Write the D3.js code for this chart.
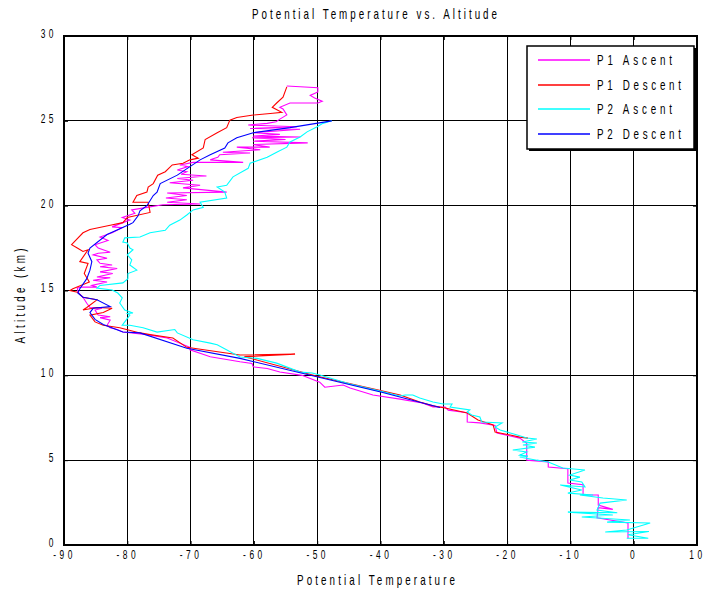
<!DOCTYPE html>
<html><head><meta charset="utf-8">
<script src="https://cdn.jsdelivr.net/npm/d3@7"></script>
<style>
body{margin:0;background:#fff}
text{font-family:"Liberation Sans",Arial,sans-serif;fill:#000}
</style>
</head><body>
<svg id="c" width="705" height="592"></svg>
<script>
// ---- data ----
const xTicks = [-90,-80,-70,-60,-50,-40,-30,-20,-10,0,10];
const yTicks = [0,5,10,15,20,25,30];
const titleText = "Potential Temperature vs. Altitude";
const xLabel = "Potential Temperature";
const yLabel = "Altitude (km)";
const seriesNames = ["P1 Ascent","P1 Descent","P2 Ascent","P2 Descent"];
const seriesColors = ["#ff00ff","#ff0000","#00ffff","#0000ff"];

// [temperature, altitude km]
const p1Ascent = [[-0.9,0.4],[-0.9,1.3],[-5.8,1.6],[-5.6,2.2],[-3.3,2.1],[-5.6,2.35],[-5.6,2.95],[-8.0,2.95],[-8.0,3.55],[-10.4,3.65],[-10.4,4.5],[-13.5,4.6],[-13.5,4.9],[-16.9,5.0],[-16.9,6.0],[-18.0,6.3],[-21.6,6.6],[-21.9,7.05],[-24.3,7.2],[-26.3,7.25],[-26.3,7.8],[-29.3,7.95],[-29.8,8.13],[-31.7,8.13],[-33.4,8.37],[-36.9,8.6],[-41.2,8.84],[-44.8,9.25],[-45.9,9.43],[-48.8,9.3],[-49.6,9.6],[-52.4,10.0],[-55.9,10.2],[-57.9,10.4],[-60.1,10.5],[-60.3,10.7],[-62.2,10.8],[-66.9,11.1],[-70.1,11.5],[-70.1,11.65],[-73.7,12.2],[-76.9,12.4],[-80.7,12.55],[-81.6,12.7],[-82.7,12.8],[-83.2,12.95],[-82.7,13.25],[-84.3,13.4],[-82.7,13.45],[-84.6,13.55],[-85.1,13.85],[-84.0,13.95],[-85.9,14.0],[-86.4,14.25],[-87.0,14.6],[-87.8,14.9],[-87.9,15.15],[-87.2,15.2],[-84.8,15.2],[-85.6,15.3],[-83.2,15.5],[-85.4,15.6],[-82.7,15.75],[-84.8,15.8],[-82.3,16.0],[-84.3,16.1],[-81.6,16.3],[-84.3,16.4],[-82.4,16.5],[-84.3,16.6],[-84.8,16.8],[-83.2,16.9],[-85.4,17.1],[-84.6,17.2],[-82.7,17.25],[-84.6,17.5],[-85.1,17.7],[-83.05,17.95],[-84.3,18.15],[-82.4,18.4],[-80.8,18.7],[-82.4,18.75],[-80.7,19.0],[-79.6,19.15],[-80.8,19.3],[-78.8,19.55],[-79.3,19.75],[-76.9,19.9],[-74.4,20.05],[-68.5,20.1],[-73.7,20.2],[-70.6,20.35],[-73.9,20.45],[-70.6,20.6],[-73.7,20.75],[-64.3,20.8],[-71.2,21.05],[-68.5,21.2],[-73.3,21.35],[-69.6,21.5],[-72.1,21.6],[-67.5,21.75],[-71.5,21.85],[-70.6,22.0],[-72.1,22.1],[-70.4,22.3],[-71.7,22.4],[-69.6,22.55],[-61.7,22.55],[-66.9,22.7],[-66.2,22.8],[-65.7,22.85],[-65.4,23.0],[-60.6,23.1],[-64.9,23.15],[-59.0,23.3],[-62.7,23.45],[-57.5,23.45],[-60.1,23.6],[-51.5,23.7],[-60.1,23.8],[-55.0,23.9],[-60.3,24.0],[-52.7,24.05],[-60.1,24.1],[-55.9,24.2],[-60.1,24.3],[-52.7,24.5],[-60.6,24.55],[-53.2,24.65],[-60.9,24.75],[-57.9,24.85],[-56.5,24.95],[-55.9,25.1],[-54.8,25.35],[-55.4,25.7],[-55.9,25.8],[-54.3,26.05],[-49.9,26.05],[-49.2,26.15],[-50.4,26.35],[-51.1,26.5],[-49.9,26.7],[-49.9,26.95],[-54.8,27.05]];

const p1Descent = [[-54.8,27.0],[-55.4,26.4],[-56.4,26.05],[-57.1,25.8],[-55.6,25.5],[-57.0,25.45],[-60.1,25.34],[-62.7,25.2],[-63.8,25.04],[-64.3,24.6],[-65.8,24.3],[-67.7,23.9],[-68.0,23.4],[-69.8,23.0],[-68.8,22.8],[-70.1,22.7],[-71.2,22.5],[-72.9,22.4],[-74.0,22.0],[-75.2,21.8],[-75.9,21.3],[-76.7,21.1],[-76.9,20.8],[-78.5,20.6],[-79.1,20.2],[-76.7,20.2],[-76.4,19.6],[-80.0,19.3],[-80.7,19.0],[-82.7,18.85],[-85.9,18.6],[-87.0,18.4],[-88.8,17.7],[-87.9,17.5],[-87.0,17.3],[-86.2,17.4],[-87.5,16.7],[-86.2,16.6],[-86.8,16.0],[-86.0,15.5],[-88.6,15.1],[-89.05,15.0],[-87.9,14.9],[-87.0,14.6],[-84.8,14.45],[-86.4,14.0],[-87.0,13.85],[-84.8,14.0],[-82.4,13.95],[-83.8,13.7],[-85.9,13.55],[-85.1,13.15],[-83.8,12.95],[-81.2,12.8],[-78.0,12.5],[-76.4,12.4],[-72.8,12.2],[-70.6,11.65],[-62.2,11.2],[-53.5,11.25],[-61.5,11.1],[-50.0,9.95],[-40.0,9.1],[-36.9,8.84],[-33.8,8.43],[-31.7,8.2],[-29.8,8.07],[-26.3,7.78],[-24.6,7.37],[-22.2,7.07],[-21.9,6.66],[-19.5,6.48],[-18.0,6.36],[-16.7,6.3]];

const p2Ascent = [[-1.1,0.4],[2.3,0.4],[-0.9,0.6],[2.4,0.8],[-4.5,0.77],[-1.1,0.88],[2.6,1.3],[-4.2,1.35],[-0.6,1.47],[-8.2,1.65],[-3.3,1.77],[-10.4,1.94],[-2.6,1.9],[-5.8,2.06],[-5.3,2.47],[-1.1,2.65],[-4.85,2.77],[-8.5,2.95],[-6.4,2.95],[-10.4,3.06],[-8.2,3.24],[-11.6,3.54],[-7.7,3.42],[-8.2,3.71],[-10.1,3.83],[-8.5,4.0],[-10.1,4.12],[-7.7,4.42],[-11.2,4.54],[-13.5,4.89],[-15.3,5.0],[-18.0,5.19],[-16.7,5.24],[-18.0,5.3],[-16.9,5.48],[-19.1,5.6],[-15.6,5.77],[-17.5,5.89],[-15.3,6.01],[-17.6,6.07],[-15.3,6.25],[-16.9,6.31],[-18.4,6.48],[-19.5,6.6],[-21.1,6.78],[-21.9,6.95],[-20.8,7.19],[-24.0,7.25],[-24.3,7.54],[-25.6,7.66],[-26.3,7.84],[-25.9,7.96],[-29.0,8.13],[-28.7,8.31],[-30.1,8.31],[-31.7,8.43],[-33.8,8.66],[-34.9,8.84],[-36.1,8.84],[-36.9,8.78],[-40.1,9.07],[-44.8,9.49],[-49.6,10.02],[-50.8,10.14],[-52.7,10.19],[-56.4,10.72],[-59.5,11.0],[-62.2,11.08],[-65.8,11.8],[-66.9,11.9],[-69.6,12.1],[-72.1,12.5],[-72.5,12.7],[-75.3,12.55],[-77.5,12.8],[-79.6,12.95],[-80.8,12.95],[-80.4,13.15],[-79.6,13.55],[-80.0,13.65],[-79.1,13.67],[-80.4,13.85],[-81.2,14.26],[-80.8,14.56],[-81.5,14.85],[-82.4,15.03],[-84.8,15.14],[-84.3,15.3],[-80.7,15.45],[-79.9,15.7],[-79.9,16.0],[-78.5,16.2],[-79.6,16.5],[-79.3,16.8],[-80.0,17.1],[-79.1,17.4],[-79.6,17.5],[-80.0,17.8],[-80.7,17.85],[-80.4,18.1],[-78.0,18.15],[-76.4,18.4],[-74.0,18.55],[-73.3,18.85],[-71.7,19.15],[-70.6,19.45],[-69.6,19.75],[-68.0,19.9],[-68.5,20.2],[-64.3,20.45],[-64.6,20.8],[-65.8,21.1],[-64.3,21.2],[-63.3,21.7],[-60.9,22.2],[-60.6,22.5],[-57.9,22.85],[-56.4,23.15],[-54.8,23.45],[-54.3,23.75],[-52.7,24.05],[-51.6,24.35],[-50.0,24.65],[-49.1,24.85],[-47.7,25.0]];

const p2Descent = [[-47.7,25.0],[-54.3,24.6],[-60.1,24.3],[-62.7,24.0],[-64.1,23.7],[-64.6,23.4],[-66.9,23.0],[-68.5,22.7],[-70.1,22.3],[-72.1,21.8],[-74.8,21.3],[-75.3,20.8],[-75.9,20.6],[-76.9,20.0],[-78.0,19.7],[-78.3,19.4],[-79.1,19.0],[-79.6,18.9],[-83.2,18.3],[-85.9,17.5],[-86.2,17.2],[-85.6,16.7],[-85.9,16.2],[-86.4,15.7],[-87.5,15.1],[-87.8,14.85],[-87.0,14.6],[-84.8,14.45],[-82.7,14.05],[-85.4,13.95],[-85.9,13.7],[-85.1,13.3],[-83.8,13.0],[-80.7,12.55],[-78.0,12.5],[-70.6,11.6],[-62.2,11.0],[-49.9,9.9],[-39.8,9.0],[-30.6,8.1]];

const allSeries = [p1Ascent, p1Descent, p2Ascent, p2Descent];

// ---- drawing ----
const SX = 0.7; // horizontal squeeze for tall narrow glyphs
const svg = d3.select("#c");
const L = 64, R = 697, T = 36, B = 545;
const x = d3.scaleLinear().domain([-90,10]).range([L,R]);
const y = d3.scaleLinear().domain([0,30]).range([B,T]);

// grid
const grid = svg.append("g").attr("stroke","#000").attr("stroke-width",1).attr("shape-rendering","crispEdges");
grid.selectAll("line.vx").data(xTicks.slice(1,-1)).join("line")
  .attr("x1",d=>x(d)).attr("x2",d=>x(d)).attr("y1",T).attr("y2",B);
grid.selectAll("line.hy").data(yTicks.slice(1,-1)).join("line")
  .attr("y1",d=>y(d)).attr("y2",d=>y(d)).attr("x1",L).attr("x2",R);

// series
const line = d3.line().x(d=>x(d[0])).y(d=>y(d[1]));
const plot = svg.append("g");
allSeries.forEach((s,i)=>{
  plot.append("path").datum(s).attr("d",line)
    .attr("fill","none").attr("stroke",seriesColors[i]).attr("stroke-width",1.1)
    .attr("stroke-linejoin","miter");
});

// axes
const fmt = d=>String(d);
const axB = svg.append("g").attr("transform",`translate(0,${B})`)
  .call(d3.axisBottom(x).tickValues(xTicks).tickFormat(fmt).tickSizeInner(-4).tickSizeOuter(0).tickPadding(5));
const axL = svg.append("g").attr("transform",`translate(${L},0)`)
  .call(d3.axisLeft(y).tickValues(yTicks).tickFormat(fmt).tickSizeInner(-4).tickSizeOuter(0));
const axT = svg.append("g").attr("transform",`translate(0,${T})`)
  .call(d3.axisTop(x).tickValues(xTicks).tickFormat("").tickSizeInner(-4).tickSizeOuter(0));
const axR = svg.append("g").attr("transform",`translate(${R},0)`)
  .call(d3.axisRight(y).tickValues(yTicks).tickFormat("").tickSizeInner(-4).tickSizeOuter(0));
[axB,axL,axT,axR].forEach(a=>{
  a.select(".domain").remove();
  a.selectAll("line").attr("stroke","#000");
  a.selectAll("text").style("font-size","12px").style("letter-spacing","5px")
    .style("font-family",'"Liberation Sans",Arial,sans-serif')
    .attr("transform",`scale(${SX},1)`);
});
axL.selectAll("text").attr("x",-7/SX).attr("dy","0.12em");

// frame
svg.append("rect").attr("x",L).attr("y",T).attr("width",R-L).attr("height",B-T)
  .attr("fill","none").attr("stroke","#000").attr("stroke-width",2);

// narrow text helper
function ntext(px,py,w,size,str,rot){
  const g = svg.append("g").attr("transform",`translate(${px},${py})${rot?" rotate(-90)":""} scale(${SX},1)`);
  g.append("text").attr("x",0).attr("y",0).attr("text-anchor","middle")
    .attr("textLength",w/SX).attr("lengthAdjust","spacing").style("font-size",size+"px").text(str);
}
ntext(374.5,19,245,14,titleText,false);
ntext(376,585,158,14,xLabel,false);
ntext(25,296,95,14,yLabel,true);

// legend
const lg = svg.append("g");
lg.append("rect").attr("x",529).attr("y",48).attr("width",167).attr("height",103).attr("fill","#000");
lg.append("rect").attr("x",527).attr("y",46).attr("width",167).attr("height",103)
  .attr("fill","#fff").attr("stroke","#000").attr("stroke-width",1.5);
const rowY = [60,85,109,134];
const legW = [75,84,75,84];
seriesNames.forEach((n,i)=>{
  lg.append("line").attr("x1",538).attr("x2",590).attr("y1",rowY[i]).attr("y2",rowY[i])
    .attr("stroke",seriesColors[i]).attr("stroke-width",1.5);
  const g = lg.append("g").attr("transform",`translate(597,${rowY[i]+5}) scale(${SX},1)`);
  g.append("text").attr("x",0).attr("y",0).attr("textLength",legW[i]/SX)
    .attr("lengthAdjust","spacing").style("font-size","14px").text(n);
});
</script>
</body></html>
